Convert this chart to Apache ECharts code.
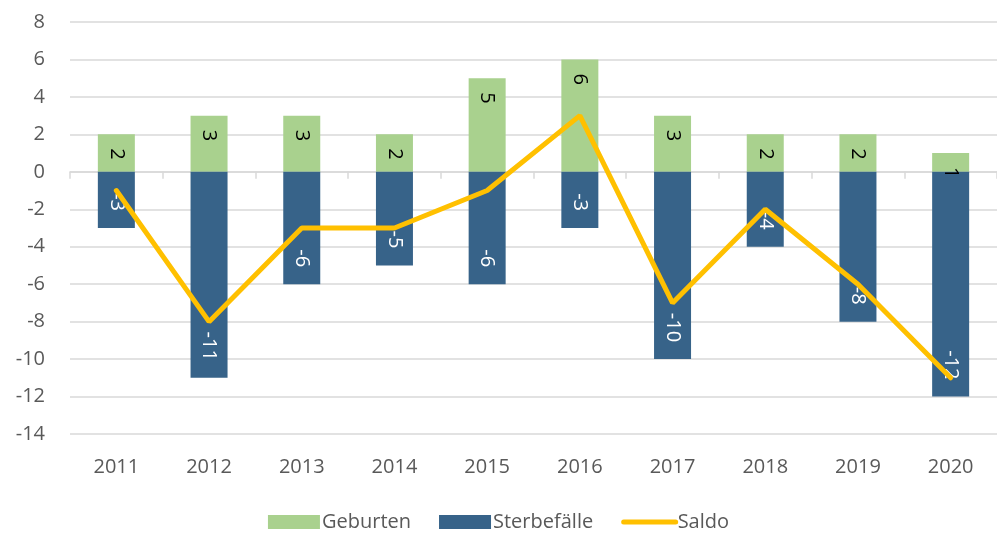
<!DOCTYPE html>
<html>
<head>
<meta charset="utf-8">
<script src="https://cdn.jsdelivr.net/npm/echarts@6/dist/echarts.min.js"></script>
<style>
  html, body { margin: 0; padding: 0; background: #fff; }
  #chart { width: 997px; height: 538px; }
</style>
</head>
<body>
<div id="chart"></div>
<script>
// Daten
var jahre = ['2011', '2012', '2013', '2014', '2015', '2016', '2017', '2018', '2019', '2020'];
var geburten = [2, 3, 3, 2, 5, 6, 3, 2, 2, 1];
var sterbefaelle = [-3, -11, -6, -5, -6, -3, -10, -4, -8, -12];
var saldo = [-1, -8, -3, -3, -1, 3, -7, -2, -6, -11];

var schrift = '"Open Sans", "Noto Sans", sans-serif';

var chart = echarts.init(document.getElementById('chart'));
var option = {
  backgroundColor: '#fff',
  animation: false,
  textStyle: { fontFamily: schrift },
  grid: { left: 70, top: 22, width: 932, height: 412 },
  legend: {
    bottom: 1,
    left: 'center',
    itemWidth: 52,
    itemHeight: 14,
    itemGap: 28,
    textStyle: { fontSize: 20, color: '#595959', fontFamily: schrift, padding: [0, 0, 0, -3] },
    data: [
      { name: 'Geburten', icon: 'rect' },
      { name: 'Sterbefälle', icon: 'rect' },
      { name: 'Saldo', itemStyle: { opacity: 0 }, lineStyle: { width: 5 } }
    ]
  },
  xAxis: [{
    type: 'category',
    data: jahre,
    position: 'bottom',
    axisLine: { show: false, onZero: false },
    axisTick: { show: false },
    axisLabel: { fontSize: 20, color: '#595959', margin: 23 }
  }, {
    type: 'category',
    data: jahre,
    position: 'bottom',
    axisLine: { show: true, onZero: true, lineStyle: { color: '#d9d9d9', width: 1.5 } },
    axisTick: { show: true, length: 7, lineStyle: { color: '#d9d9d9', width: 1.5 } },
    axisLabel: { show: false }
  }],
  yAxis: {
    type: 'value',
    min: -14,
    max: 8,
    interval: 2,
    axisLine: { show: false },
    axisTick: { show: false },
    axisLabel: { fontSize: 20, color: '#595959', margin: 25 },
    splitLine: { lineStyle: { color: '#d9d9d9', width: 1.5 } }
  },
  series: [{
    name: 'Geburten',
    type: 'bar',
    stack: 'gesamt',
    barWidth: 37,
    itemStyle: { color: '#a9d18e' },
    label: {
      show: true,
      position: 'insideTop',
      distance: 14,
      rotate: -90,
      align: 'left',
      verticalAlign: 'middle',
      fontSize: 20,
      color: '#000'
    },
    data: geburten
  }, {
    name: 'Sterbefälle',
    type: 'bar',
    stack: 'gesamt',
    barWidth: 37,
    itemStyle: { color: '#376389' },
    label: {
      show: true,
      position: 'insideBottom',
      distance: 17,
      rotate: -90,
      align: 'right',
      verticalAlign: 'middle',
      fontSize: 20,
      color: '#fff'
    },
    data: sterbefaelle
  }, {
    name: 'Saldo',
    type: 'line',
    symbol: 'none',
    z: 5,
    lineStyle: { color: '#ffc000', width: 5, cap: 'round' },
    itemStyle: { color: '#ffc000' },
    data: saldo
  }]
};
chart.setOption(option);
</script>
</body>
</html>
